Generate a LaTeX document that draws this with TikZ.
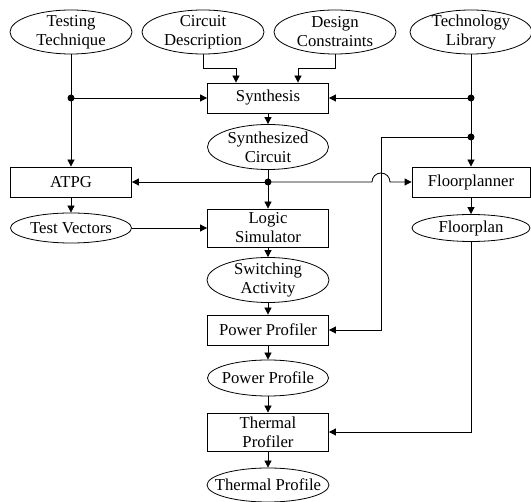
\documentclass[tikz,border=0pt]{standalone}
\usepackage{fontspec}
\setmainfont{Liberation Serif}
\usetikzlibrary{arrows.meta,positioning,shapes.geometric}

\begin{document}
\begin{tikzpicture}[>={Triangle[length=7pt,width=7pt]},line width=0.8pt,on grid,font=\fontsize{16.7}{19}\selectfont]
          \tikzset{src/.style={ellipse,draw,inner sep=-10pt,minimum width=122pt,minimum height=44pt,align=center}}
          \tikzset{res/.style={ellipse,draw,inner sep=-10pt,minimum width=121pt,minimum height=30pt,align=center}}
          \tikzset{tool/.style={rectangle,draw,inner sep=0pt,minimum width=121pt,minimum height=30pt,align=center}}
          \tikzset{flow/.style={->}}
          \useasboundingbox (-71pt,32pt) rectangle (460pt,-470pt);
          \node[src]                                  (tt)                                 {Testing\\Technique};
          \node[src]                                  (cd)   [right =132pt of tt]          {Circuit\\Description};
          \node[src]                                  (dc)   [right =132pt of cd]          {Design\\Constraints};
          \node[src]                                  (tl)   [right =136pt of dc]          {Technology\\Library};
          \node[tool]                                 (syn)  [below right =66pt and 65pt of cd] {Synthesis};
          \node[src,minimum width=121pt,minimum height=45pt] (sc) [below =49pt of syn]     {Synthesized\\Circuit};
          \node[tool]                                 (atpg) [below =150pt of tt]          {ATPG};
          \node[tool,minimum width=118pt]             (fp)   [below =150pt of tl]          {Floorplanner};
          \node[res]                                  (tv)   [below =46pt of atpg]         {Test Vectors};
          \node[tool,minimum height=38pt]             (ls)   [below =81pt of sc]           {Logic\\Simulator};
          \node[res,minimum width=118pt,minimum height=27pt] (flp) [below =46pt of fp]     {Floorplan};
          \node[src,minimum height=45pt]              (sa)   [below =52pt of ls]           {Switching\\Activity};
          \node[tool]                                 (pp)   [below =50pt of sa]           {Power Profiler};
          \node[res,minimum height=36pt]              (ppf)  [below =48pt of pp]           {Power Profile};
          \node[tool,minimum height=38pt]             (tp)   [below =54pt of ppf]          {Thermal\\Profiler};
          \node[res,minimum height=34pt]              (tpf)  [below =53pt of tp]           {Thermal Profile};
          \coordinate (j1) at (tt |- syn);
          \coordinate (j2) at (tl |- syn);
          \coordinate [below =39pt of j2] (j3);
          \coordinate (j4) at (sc |- atpg);
          \path (tt)   edge [flow] (atpg)
          (j1)   edge [flow] (syn)
          (j2)   edge [flow] (syn)
          (tl)   edge [flow] (fp)
          (syn)  edge [flow] (sc)
          (sc)   edge [flow] (ls)
          (j4)   edge [flow] (atpg)
          (atpg) edge [flow] (tv)
          (tv)   edge [flow] (ls)
          (fp)   edge [flow] (flp)
          (ls)   edge [flow] (sa)
          (sa)   edge [flow] (pp)
          (pp)   edge [flow] (ppf)
          (ppf)  edge [flow] (tp)
          (tp)   edge [flow] (tpf);
          \draw[flow] (cd.south) -- ++(0,-14pt) -| ([xshift=-32pt]syn.north);
          \draw[flow] (dc.south) -- ++(0,-14pt) -| ([xshift=30pt]syn.north);
          \draw[flow] (j3) -- ++(-90pt,0) |- (pp.east);
          \draw[flow] (j4) -- ++(104pt,0) arc[start angle=180,end angle=0,radius=9pt] -- (fp.west);
          \draw[flow] (flp.south) |- (tp.east);
          \foreach \j in {j1,j2,j3,j4} \fill (\j) circle (3.5pt);
        \end{tikzpicture}
\end{document}
